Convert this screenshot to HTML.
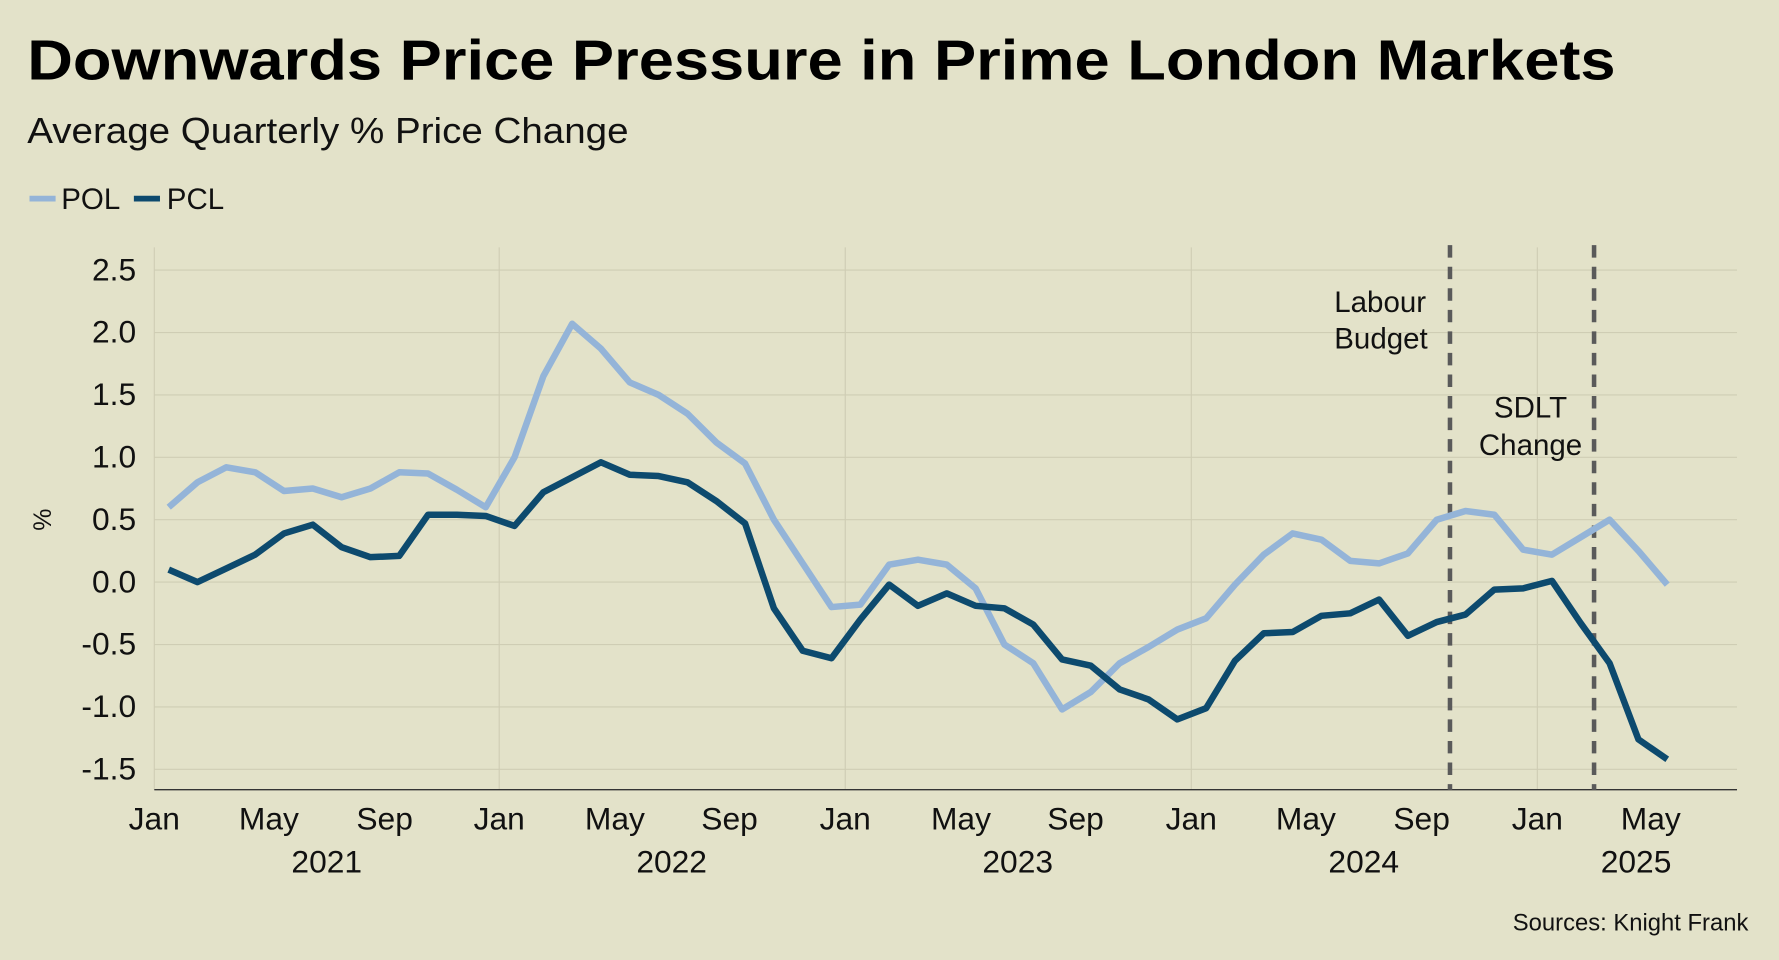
<!DOCTYPE html>
<html><head><meta charset="utf-8"><style>
html,body{margin:0;padding:0;background:#e3e2c9;}
svg{display:block;font-family:"Liberation Sans",Arial,sans-serif;}
</style></head><body>
<svg width="1779" height="960" viewBox="0 0 1568 846" xmlns="http://www.w3.org/2000/svg">
<rect width="1568" height="846" fill="#e3e2c9"/>
<text x="24" y="70" font-size="50" font-weight="bold" fill="#000" textLength="1400" lengthAdjust="spacingAndGlyphs">Downwards Price Pressure in Prime London Markets</text>
<text x="24" y="126" font-size="32" fill="#111" textLength="530" lengthAdjust="spacingAndGlyphs">Average Quarterly % Price Change</text>
<line x1="26" y1="175" x2="49" y2="175" stroke="#94b4d8" stroke-width="5"/>
<text x="54" y="184" font-size="26" fill="#111">POL</text>
<line x1="118" y1="175" x2="141" y2="175" stroke="#0d4a6e" stroke-width="5"/>
<text x="147" y="184" font-size="26" fill="#111">PCL</text>
<g stroke="#cfcdb4" stroke-width="1">
<line x1="136" x2="1531" y1="238" y2="238"/><line x1="136" x2="1531" y1="293" y2="293"/>
<line x1="136" x2="1531" y1="348" y2="348"/><line x1="136" x2="1531" y1="403" y2="403"/>
<line x1="136" x2="1531" y1="458" y2="458"/><line x1="136" x2="1531" y1="513" y2="513"/>
<line x1="136" x2="1531" y1="568" y2="568"/><line x1="136" x2="1531" y1="623" y2="623"/>
<line x1="136" x2="1531" y1="678" y2="678"/>
<line x1="440" x2="440" y1="218" y2="696"/><line x1="745" x2="745" y1="218" y2="696"/>
<line x1="1050" x2="1050" y1="218" y2="696"/><line x1="1355" x2="1355" y1="218" y2="696"/>
</g>
<line x1="136" x2="136" y1="218" y2="696" stroke="#cfcdb4"/>
<line x1="136" x2="1531" y1="696" y2="696" stroke="#333" stroke-width="1.2"/>
<g font-size="28" fill="#111" text-anchor="end">
<text x="120" y="247">2.5</text><text x="120" y="302">2.0</text><text x="120" y="357">1.5</text>
<text x="120" y="412">1.0</text><text x="120" y="467">0.5</text><text x="120" y="522">0.0</text>
<text x="120" y="577">-0.5</text><text x="120" y="632">-1.0</text><text x="120" y="687">-1.5</text>
</g>
<text transform="translate(45,458) rotate(-90)" font-size="22" text-anchor="middle" fill="#111">%</text>
<g font-size="28" fill="#111" text-anchor="middle">
<text x="136" y="731">Jan</text><text x="237" y="731">May</text><text x="339" y="731">Sep</text>
<text x="440" y="731">Jan</text><text x="542" y="731">May</text><text x="643" y="731">Sep</text>
<text x="745" y="731">Jan</text><text x="847" y="731">May</text><text x="948" y="731">Sep</text>
<text x="1050" y="731">Jan</text><text x="1151" y="731">May</text><text x="1253" y="731">Sep</text>
<text x="1355" y="731">Jan</text><text x="1455" y="731">May</text>
<text x="288" y="769">2021</text><text x="592" y="769">2022</text><text x="897" y="769">2023</text>
<text x="1202" y="769">2024</text><text x="1442" y="769">2025</text>
</g>
<g stroke="#5a5a5a" stroke-width="4" stroke-dasharray="11,8">
<line x1="1278" x2="1278" y1="216" y2="696"/>
<line x1="1405" x2="1405" y1="216" y2="696"/>
</g>
<g font-size="26" fill="#111">
<text x="1176" y="275">Labour</text><text x="1176" y="307">Budget</text>
<text x="1349" y="368" text-anchor="middle">SDLT</text><text x="1349" y="401" text-anchor="middle">Change</text>
</g>
<text x="1541" y="820" font-size="21" text-anchor="end" fill="#111">Sources: Knight Frank</text>
<g transform="translate(148.7,513) scale(25.4,-110)" fill="none" stroke-linejoin="round">
<polyline vector-effect="non-scaling-stroke" stroke="#94b4d8" stroke-width="6.5" points="0,0.6 1,0.8 2,0.92 3,0.88 4,0.73 5,0.75 6,0.68 7,0.75 8,0.88 9,0.87 10,0.74 11,0.6 12,1.0 13,1.65 14,2.07 15,1.87 16,1.6 17,1.5 18,1.35 19,1.12 20,0.95 21,0.5 22,0.15 23,-0.2 24,-0.18 25,0.14 26,0.18 27,0.14 28,-0.05 29,-0.5 30,-0.65 31,-1.02 32,-0.88 33,-0.65 34,-0.52 35,-0.38 36,-0.29 37,-0.02 38,0.22 39,0.39 40,0.34 41,0.17 42,0.15 43,0.23 44,0.5 45,0.57 46,0.54 47,0.26 48,0.22 49,0.36 50,0.5 51,0.25 52,-0.02"/>
<polyline vector-effect="non-scaling-stroke" stroke="#0d4a6e" stroke-width="6.5" points="0,0.1 1,0.0 2,0.11 3,0.22 4,0.39 5,0.46 6,0.28 7,0.2 8,0.21 9,0.54 10,0.54 11,0.53 12,0.45 13,0.72 14,0.84 15,0.96 16,0.86 17,0.85 18,0.8 19,0.65 20,0.47 21,-0.21 22,-0.55 23,-0.61 24,-0.3 25,-0.02 26,-0.19 27,-0.09 28,-0.19 29,-0.21 30,-0.34 31,-0.62 32,-0.67 33,-0.86 34,-0.94 35,-1.1 36,-1.01 37,-0.63 38,-0.41 39,-0.4 40,-0.27 41,-0.25 42,-0.14 43,-0.43 44,-0.32 45,-0.26 46,-0.06 47,-0.05 48,0.01 49,-0.33 50,-0.65 51,-1.26 52,-1.42"/>
</g>
</svg>
</body></html>
